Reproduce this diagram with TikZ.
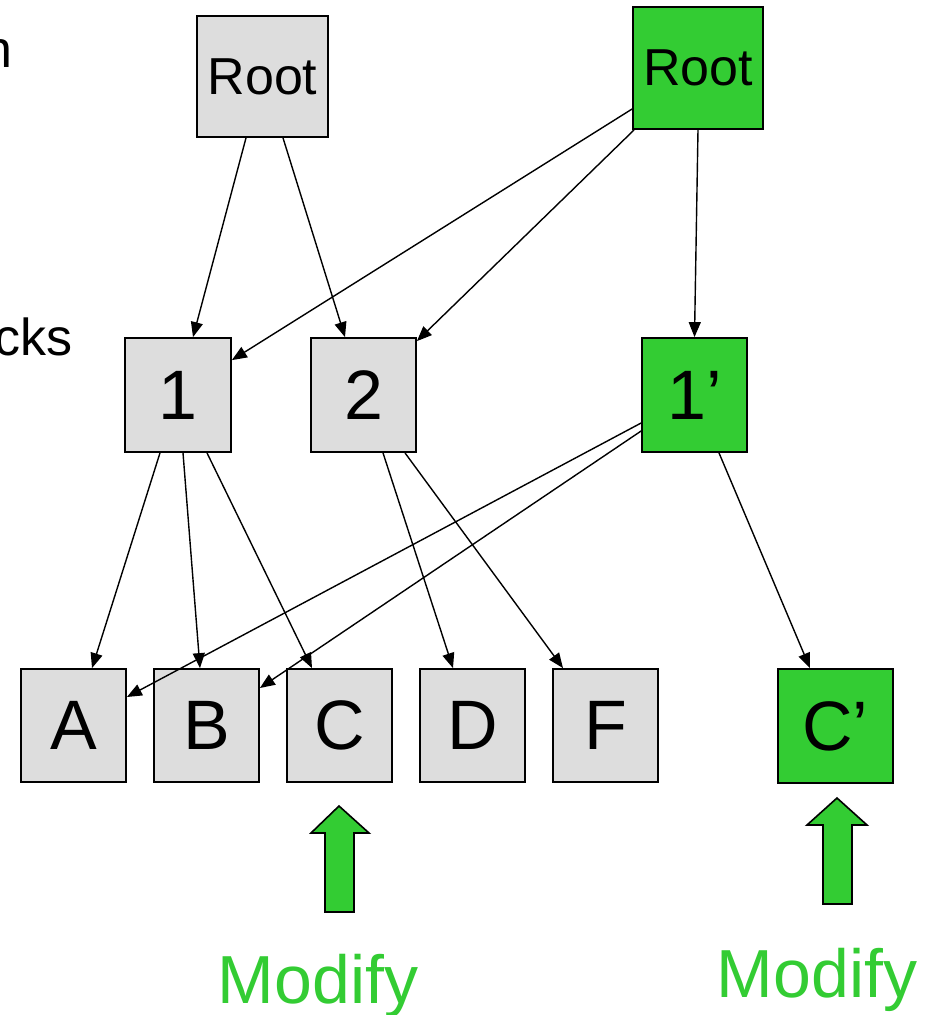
\documentclass[tikz,border=0pt]{standalone}
\usepackage{fontspec}
\setmainfont{Liberation Sans}
\usetikzlibrary{arrows.meta}
\definecolor{boxgrey}{HTML}{DDDDDD}
\definecolor{boxgreen}{HTML}{33CC33}
\tikzset{
  blk/.style={draw=black, line width=1.8pt, rectangle, inner sep=0pt, text=black},
  greybox/.style={blk, fill=boxgrey},
  greenbox/.style={blk, fill=boxgreen},
  rootfont/.style={font=\fontsize{52}{52}\selectfont},
  bigfont/.style={font=\fontsize{70}{70}\selectfont},
  arr/.style={line width=1.4pt, -{Triangle[length=15pt,width=12pt]}},
  uparrow/.style={draw=black, line width=1.6pt, fill=boxgreen, line join=miter},
  modtext/.style={text=boxgreen, font=\fontsize{68}{68}\selectfont, inner sep=0pt, anchor=base},
  sidetext/.style={font=\fontsize{52}{52}\selectfont, inner sep=0pt, anchor=base east}
}
\begin{document}
\begin{tikzpicture}[x=1pt, y=-1pt]
\useasboundingbox (0,0) rectangle (926,1015);
% side labels
\node[sidetext] (tn) at (13,67) {n};
\node[sidetext] (tcks) at (73,355) {cks};
% top row
\node[greybox, rootfont, minimum width=131pt, minimum height=121pt] (r1) at (262.5,76.5) {Root};
\node[greenbox, rootfont, minimum width=130pt, minimum height=122pt] (r2) at (698,68) {Root};
% middle row
\node[greybox, bigfont, minimum width=106pt, minimum height=114pt] (n1) at (178,395) {1};
\node[greybox, bigfont, minimum width=105pt, minimum height=114pt] (n2) at (363.5,395) {2};
\node[greenbox, bigfont, minimum width=105pt, minimum height=114pt] (n1p) at (694.5,395) {1’};
% bottom row
\node[greybox, bigfont, minimum width=105pt, minimum height=113pt] (A) at (73.5,725.5) {A};
\node[greybox, bigfont, minimum width=105pt, minimum height=113pt] (B) at (206.5,725.5) {B};
\node[greybox, bigfont, minimum width=105pt, minimum height=113pt] (C) at (339.5,725.5) {C};
\node[greybox, bigfont, minimum width=105pt, minimum height=113pt] (D) at (472.5,725.5) {D};
\node[greybox, bigfont, minimum width=105pt, minimum height=113pt] (F) at (605.5,725.5) {F};
\node[greenbox, bigfont, minimum width=115pt, minimum height=114pt] (Cp) at (835.5,726) {C’};
% connectors from grey root
\draw[arr] ([xshift=-16.5pt]r1.south) -- ([xshift=15pt]n1.north);
\draw[arr] ([xshift=20.5pt]r1.south) -- ([xshift=-18.5pt]n2.north);
% connectors from green root
\draw[arr] ([yshift=-41pt]r2.west) -- ([yshift=-23pt]n1.north east);
\draw[arr] ([xshift=2pt]r2.south west) -- ([yshift=-4pt]n2.north east);
\draw[arr] (r2.south) -- (n1p.north);
% from 1
\draw[arr] ([xshift=-18pt]n1.south) -- ([xshift=18.5pt]A.north);
\draw[arr] ([xshift=5pt]n1.south) -- ([xshift=-6.5pt]B.north);
\draw[arr] ([xshift=29pt]n1.south) -- ([xshift=-27.5pt]C.north);
% from 2
\draw[arr] ([xshift=19.5pt]n2.south) -- ([xshift=-19.5pt]D.north);
\draw[arr] ([xshift=41.5pt]n2.south) -- ([xshift=-42.5pt]F.north);
% from 1'
\draw[arr] ([yshift=-28pt]n1p.west) -- ([yshift=28.5pt]A.east);
\draw[arr] ([yshift=-36pt]n1p.west) -- ([yshift=37.5pt]B.east);
\draw[arr] ([xshift=24.5pt]n1p.south) -- ([xshift=-25.5pt]Cp.north);
% block up arrows
\draw[uparrow] (339,806) -- (369,833) -- (354,833) -- (354,912) -- (325,912) -- (325,833) -- (311,833) -- cycle;
\draw[uparrow] (837,798) -- (867,825) -- (852,825) -- (852,904) -- (823,904) -- (823,825) -- (807,825) -- cycle;
% Modify labels
\node[modtext] (m1) at (318,1003) {Modify};
\node[modtext] (m2) at (817,997) {Modify};
\end{tikzpicture}
\end{document}
